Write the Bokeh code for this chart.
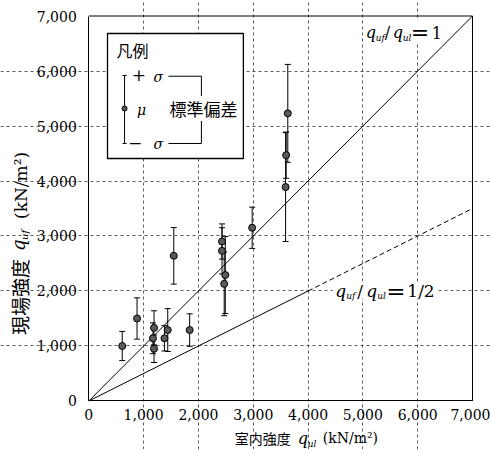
import math
from bokeh.plotting import figure
from bokeh.models import ColumnDataSource, Whisker, Label, Range1d, FixedTicker, NumeralTickFormatter, TeeHead
from bokeh.embed import file_html
from bokeh.resources import INLINE

# ---- data ----
lab_strength = [610, 880, 1190, 1170, 1190, 1380, 1440, 1840, 1550, 2430, 2430, 2490, 2470, 2980, 3590, 3600, 3630]
field_strength = [1000, 1500, 1330, 1140, 950, 1140, 1290, 1290, 2640, 2900, 2730, 2290, 2130, 3150, 3890, 4470, 5230]
std_dev = [265, 375, 310, 280, 250, 230, 390, 295, 515, 320, 420, 700, 580, 375, 990, 420, 890]
tick_values = [0, 1000, 2000, 3000, 4000, 5000, 6000, 7000]
ratio_values = [1.0, 0.5]
axis_max = 7000
half_solid_end = 4000

SERIF = "DejaVu Serif"
JP = "Noto Sans CJK JP"

src = ColumnDataSource(dict(
    x=lab_strength, y=field_strength,
    upper=[m + s for m, s in zip(field_strength, std_dev)],
    lower=[m - s for m, s in zip(field_strength, std_dev)],
))

# frame covers the whole canvas; axes are pinned at 0 so that titles can sit inside the frame
W, H = 490, 449
p = figure(width=W, height=H, output_backend="svg", toolbar_location=None, title=None,
           x_range=Range1d(-1611, 7328), y_range=Range1d(-882, 7282),
           min_border_left=0, min_border_right=0, min_border_top=0, min_border_bottom=0)
p.background_fill_color = "white"
p.border_fill_color = "white"
p.outline_line_color = None

for ax in (p.xaxis[0], p.yaxis[0]):
    ax.fixed_location = 0
    ax.bounds = (0, axis_max)
    ax.ticker = FixedTicker(ticks=tick_values)
    ax.formatter = NumeralTickFormatter(format="0,0")
    ax.major_tick_line_color = None
    ax.minor_tick_line_color = None
    ax.axis_line_color = "black"
    ax.major_label_text_font = SERIF
    ax.major_label_text_font_size = "14px"
    ax.major_label_text_color = "black"
p.xaxis.major_label_standoff = 2
p.yaxis.major_label_standoff = 6

for g in (p.xgrid[0], p.ygrid[0]):
    g.ticker = FixedTicker(ticks=tick_values[1:-1])
    g.bounds = (0, axis_max)
    g.grid_line_color = "#333333"
    g.grid_line_dash = "3 3"
    g.grid_line_width = 0.8

# plot box (top / right edges)
p.line([0, axis_max, axis_max], [axis_max, axis_max, 0], line_color="black", line_width=1)

# white patches behind in-plot labels
p.quad(left=[5030], right=[6480], top=[6920], bottom=[6520], fill_color="white", line_color=None)
p.quad(left=[4450], right=[6330], top=[2170], bottom=[1860], fill_color="white", line_color=None)

# ratio lines
r1 = ratio_values[0]
p.line([0, axis_max], [0, axis_max * r1], line_color="black", line_width=1)
r2 = ratio_values[1]
p.line([0, half_solid_end], [0, half_solid_end * r2], line_color="black", line_width=1)
p.line([half_solid_end, axis_max], [half_solid_end * r2, axis_max * r2], line_color="black",
       line_width=1, line_dash="5 3")

# legend box
p.quad(left=[341], right=[2820], top=[6682], bottom=[4409], fill_color="white",
       line_color="black", line_width=1.3)
p.segment(x0=[652], y0=[5918], x1=[652], y1=[4682], line_color="black", line_width=1)
p.segment(x0=[615, 615], y0=[5918, 4682], x1=[690, 690], y1=[5918, 4682], line_color="black", line_width=1)
p.scatter(x=[652], y=[5318], size=5, fill_color="#555555", line_color="black")
p.line(x=[1453, 2054, 2054, 1453], y=[5905, 5905, 4682, 4682], line_color="black", line_width=1)

# data
w = Whisker(base="x", upper="upper", lower="lower", source=src, line_color="black", line_width=1,
            upper_head=TeeHead(size=6, line_color="black", line_width=1),
            lower_head=TeeHead(size=6, line_color="black", line_width=1))
p.add_layout(w)
p.scatter("x", "y", source=src, size=7, fill_color="#5a5a5a", line_color="black", line_width=1)


def lab(text, x, y, xo=0, yo=0, font=SERIF, size=15, style="normal", align="left",
        angle=0, bg=None):
    l = Label(x=x, y=y, x_offset=xo, y_offset=yo, text=text, text_font=font,
              text_font_size=f"{size}px", text_font_style=style, text_align=align,
              text_baseline="middle", angle=angle, text_color="black")
    if bg:
        l.background_fill_color = bg
    p.add_layout(l)


# legend texts
lab("凡例", 505, 6373, font=JP, size=16)
lab("+", 915, 5936, size=17, align="center")
lab("σ", 1180, 5890, size=14, style="italic")
lab("μ", 880, 5282, size=14, style="italic")
lab("−", 845, 4682, size=17, align="center")
lab("σ", 1180, 4665, size=14, style="italic")
lab("標準偏差", 1473, 5318, font=JP, size=17, bg="white")

# q_uf/q_ul = 1
ax1, ay1 = 5050, 6700
lab("q", ax1, ay1, xo=0, size=16, style="italic")
lab("uf", ax1, ay1, xo=10, yo=-5, size=9, style="italic")
lab("/", ax1, ay1, xo=19, size=16)
lab("q", ax1, ay1, xo=27, size=16, style="italic")
lab("ul", ax1, ay1, xo=37, yo=-5, size=9, style="italic")
lab("=", ax1, ay1, xo=45, size=22)
lab("1", ax1, ay1, xo=66, size=16)

# q_uf/q_ul = 1/2
ax2, ay2 = 4497, 2000
lab("q", ax2, ay2, xo=0, size=17, style="italic")
lab("uf", ax2, ay2, xo=11, yo=-5, size=9, style="italic")
lab("/", ax2, ay2, xo=22, size=17)
lab("q", ax2, ay2, xo=31, size=17, style="italic")
lab("ul", ax2, ay2, xo=42, yo=-5, size=9, style="italic")
lab("=", ax2, ay2, xo=51, size=23)
lab("1/2", ax2, ay2, xo=72, size=17)

# x axis title
lab("室内強度", 0, 0, xo=146, yo=-37, font=JP, size=14)
lab("q", 0, 0, xo=209, yo=-38, size=16, style="italic")
lab("ul", 0, 0, xo=219, yo=-43, size=9, style="italic")
lab("(kN/m²)", 0, 0, xo=234, yo=-37, size=14)

# y axis title (rotated)
A = math.pi / 2
lab("現場強度", 0, 0, xo=-69, yo=66, font=JP, size=19, angle=A)
lab("q", 0, 0, xo=-70, yo=150, size=18, style="italic", angle=A)
lab("uf", 0, 0, xo=-64, yo=161, size=10, style="italic", angle=A)
lab("(kN/m²)", 0, 0, xo=-68, yo=182, size=17, angle=A)

open("out.html", "w").write(file_html(p, INLINE))
